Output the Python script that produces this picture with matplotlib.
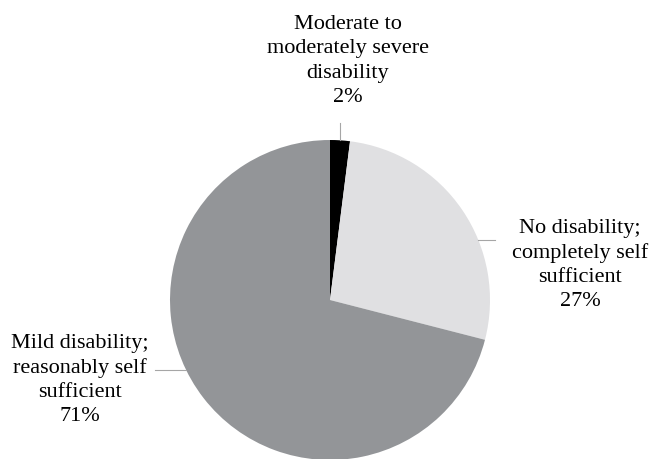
import numpy as np
import matplotlib.pyplot as plt

labels = ['Moderate to\nmoderately severe\ndisability',
          'No disability;\ncompletely self\nsufficient',
          'Mild disability;\nreasonably self\nsufficient']
shares = [2, 27, 71]
colors = ['#000000', '#e0e0e2', '#939598']

plt.rcParams['font.family'] = ['Liberation Serif', 'DejaVu Serif']

fig = plt.figure(figsize=(6.54, 4.59), dpi=100)
ax = fig.add_axes([0, 0, 1, 1])

cx, cy, r = 330, 159, 160
wedges, _ = ax.pie(shares, colors=colors, startangle=90, counterclock=False,
                   center=(cx, cy), radius=r, frame=True,
                   wedgeprops=dict(linewidth=0))
ax.set_xlim(0, 654)
ax.set_ylim(0, 459)
ax.set_aspect('equal')
ax.axis('off')

# label text centre, leader angle on the rim, leader end
label_pos = [(348, 398), (580, 194), (80, 79)]
leader_ang = [86.4, 22.0, 206.0]
leader_end = [(None, 336), (495, None), (155, None)]

for i, (lab, s) in enumerate(zip(labels, shares)):
    ax.text(label_pos[i][0], label_pos[i][1], f'{lab}\n{s}%', ha='center',
            va='center', multialignment='center', fontsize=16,
            linespacing=1.36, color='#000000')
    a = np.deg2rad(leader_ang[i])
    x0, y0 = cx + r * np.cos(a), cy + r * np.sin(a)
    ex, ey = leader_end[i]
    if ey is None:
        ey = y0
    else:
        ex = x0
    ax.plot([x0, ex], [y0, ey], color='#a6a6a6', linewidth=0.8)

fig.savefig('out.png', dpi=100)
